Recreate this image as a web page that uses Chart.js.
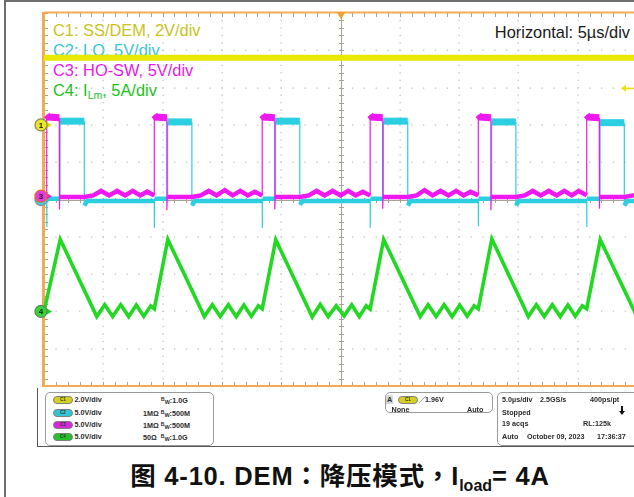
<!DOCTYPE html>
<html>
<head>
<meta charset="utf-8">
<script src="https://cdn.jsdelivr.net/npm/chart.js@4"></script>
<style>
  body { margin: 0; width: 634px; height: 497px; overflow: hidden; background: #fff; position: relative;
         font-family: "Liberation Sans", Arial, "Noto Sans CJK SC", sans-serif; }
  .frame { position: absolute; left: 4px; top: 0; width: 700px; height: 600px;
           border-left: 2px solid #6e6e6e; border-top: 2px solid #6e6e6e; }
  .lbl { position: absolute; left: 53px; font-size: 16.4px; line-height: 16px; white-space: nowrap; }
  .lbl sub { font-size: 10.5px; vertical-align: -3px; line-height: 0; }
  #scope { position: absolute; left: 30px; top: 0; }
  .box { position: absolute; border: 1px solid #9a9a9a; border-radius: 5px; background: #fff; }
  .t { position: absolute; font-size: 7.2px; font-weight: bold; color: #2a2a2a; line-height: 9px; white-space: nowrap; }
  .badge { position: absolute; width: 18px; height: 6px; border: 1px solid #808080; border-radius: 4px;
           font-size: 4.5px; line-height: 6px; text-align: center; color: #333; font-weight: bold; }
  .bw { font-size: 5px; vertical-align: 2px; }
  .bw2 { font-size: 5.5px; vertical-align: -1px; }
  .stop { position: absolute; left: 621px; top: 406px; width: 2px; height: 6px; background: #111; }
  .stop::after { content: ""; position: absolute; left: -2px; top: 5px; border-left: 3px solid transparent;
                 border-right: 3px solid transparent; border-top: 4px solid #111; }
  .caption { position: absolute; left: 0; width: 680px; top: 459px; text-align: center; letter-spacing: 0.8px;
             font-size: 25.5px; font-weight: bold; color: #111; line-height: 30px; white-space: nowrap; }
  .caption .p { font-family: "Noto Sans CJK TC", sans-serif; }
  .caption sub { font-size: 16px; vertical-align: -6px; line-height: 0; letter-spacing: 0; }
</style>
</head>
<body>
<div class="frame"></div>

<div class="lbl" style="top:22.4px;color:#c8c31a">C1: SS/DEM, 2V/div</div>
<div class="lbl" style="top:41.9px;color:#33c6d6">C2: LO, 5V/div</div>
<div class="lbl" style="top:61.9px;color:#e619e6">C3: HO-SW, 5V/div</div>
<div class="lbl" style="top:81.9px;color:#19c219">C4: I<sub>Lm</sub>, 5A/div</div>
<div class="lbl" style="top:23.7px;left:auto;right:4px;color:#1a1a1a">Horizontal: 5µs/div</div>

<canvas id="scope" width="607" height="390"></canvas>

<!-- status bar -->
<div style="position:absolute;left:37px;top:388px;width:620px;height:58px;border-left:1.5px solid #555;border-bottom:1.5px solid #555;"></div>
<div class="box" style="left:45px;top:391.5px;width:167px;height:52px"></div>
<div class="box" style="left:385px;top:391.5px;width:106px;height:19px"></div>
<div class="box" style="left:497px;top:391.5px;width:150px;height:52px"></div>

<div class="badge" style="left:53px;top:395.5px;background:#d8d020">C1</div>
<div class="badge" style="left:53px;top:408.5px;background:#33c6d6">C2</div>
<div class="badge" style="left:53px;top:420.5px;background:#d628d6">C3</div>
<div class="badge" style="left:53px;top:432.5px;background:#28c028">C4</div>
<div class="t" style="left:74.5px;top:394.5px">2.0V/div</div>
<div class="t" style="left:74.5px;top:407.5px">5.0V/div</div>
<div class="t" style="left:74.5px;top:419.5px">5.0V/div</div>
<div class="t" style="left:74.5px;top:431.5px">5.0V/div</div>
<div class="t" style="left:161px;top:394.5px"><span class="bw">B</span><span class="bw2">W</span>:1.0G</div>
<div class="t" style="left:143px;top:407.5px">1MΩ <span class="bw">B</span><span class="bw2">W</span>:500M</div>
<div class="t" style="left:143px;top:419.5px">1MΩ <span class="bw">B</span><span class="bw2">W</span>:500M</div>
<div class="t" style="left:143px;top:431.5px">50Ω&nbsp; <span class="bw">B</span><span class="bw2">W</span>:1.0G</div>

<div class="t" style="left:386px;top:394.5px;background:#d8d8d8;padding:0 1px">A</div>
<div class="badge" style="left:398px;top:395.5px;background:#d8d020">C1</div>
<div class="t" style="left:419px;top:394.5px;font-weight:normal">╱</div>
<div class="t" style="left:425px;top:394.5px" id="trigText"></div>
<div class="t" style="left:391.5px;top:404.5px">None</div>
<div class="t" style="left:467px;top:404.5px">Auto</div>

<div class="t" style="left:502px;top:394.5px">5.0µs/div</div>
<div class="t" style="left:540px;top:394.5px">2.5GS/s</div>
<div class="t" style="left:590px;top:394.5px">400ps/pt</div>
<div class="t" style="left:502px;top:407.5px">Stopped</div>
<div class="stop"></div>
<div class="t" style="left:502px;top:419px">19 acqs</div>
<div class="t" style="left:583px;top:419px">RL:125k</div>
<div class="t" style="left:502px;top:432px">Auto</div>
<div class="t" style="left:527px;top:432px">October 09, 2023</div>
<div class="t" style="left:597px;top:432px">17:36:37</div>

<div class="caption">图 4-10. DEM<span class="p">：</span>降压模式<span class="p">，</span>I<sub>load</sub>= 4A</div>

<script>
// time axis in µs (5 µs/div, 10 div)
const timeMin = -25;
const timeMax = 25;
const trigLevel = 1.96;

// C1 SS/DEM (V)
const c1Time = [-25.00, 25.00];
const c1Volts = [3.6, 3.6];

// C2 LO (V)
const c2Time = [
  -25.00,
  -24.77, -24.77, -24.75, -23.65, -23.65, -21.60, -21.60, -21.35,
  -15.70, -15.70, -15.68, -14.58, -14.58, -12.53, -12.53, -12.28,
  -6.60, -6.60, -6.58, -5.48, -5.48, -3.43, -3.43, -3.18,
  2.50, 2.50, 2.52, 3.62, 3.62, 5.67, 5.67, 5.92,
  11.62, 11.62, 11.64, 12.74, 12.74, 14.79, 14.79, 15.04,
  20.76, 20.76, 20.78, 21.88, 21.88, 23.93, 23.93, 24.18,
  25.00
];
const c2Volts = [
  -0.2,
  -0.2, -3.7, 0.1, 0.1, 10.5, 10.5, -0.8, -0.2,
  -0.2, -3.8, 0.1, 0.1, 10.4, 10.4, -0.8, -0.2,
  -0.2, -3.8, 0.1, 0.1, 10.5, 10.5, -0.7, -0.2,
  -0.2, -3.8, 0.1, 0.1, 10.5, 10.5, -0.8, -0.2,
  -0.2, -3.6, 0.1, 0.1, 10.4, 10.4, -0.8, -0.2,
  -0.2, -3.7, 0.1, 0.1, 10.3, 10.3, -0.8, -0.2,
  -0.2
];

// C3 HO-SW (V)
const c3Time = [
  -25.00,
  -24.77, -24.77, -24.62, -23.71, -23.71, -23.68, -21.60, -20.85, -20.18, -19.51, -18.83, -18.16, -17.52, -16.89, -16.30,
  -15.70, -15.70, -15.55, -14.64, -14.64, -14.61, -12.53, -11.78, -11.11, -10.44, -9.76, -9.09, -8.45, -7.82, -7.23,
  -6.60, -6.60, -6.45, -5.54, -5.54, -5.51, -3.43, -2.68, -2.01, -1.34, -0.66, 0.01, 0.65, 1.28, 1.87,
  2.50, 2.50, 2.65, 3.56, 3.56, 3.59, 5.67, 6.42, 7.09, 7.76, 8.44, 9.11, 9.75, 10.38, 10.97,
  11.62, 11.62, 11.77, 12.68, 12.68, 12.71, 14.79, 15.54, 16.21, 16.88, 17.56, 18.23, 18.87, 19.50, 20.09,
  20.76, 20.76, 20.91, 21.82, 21.82, 21.85, 23.93, 24.68, 25.00
];
const c3Volts = [
  0.1,
  0.1, 10.9, 10.6, 10.5, -1.8, -0.1, -0.1, 0.1, 0.7, 0.1, 0.7, 0.1, 0.7, 0.1, 0.6,
  0.1, 10.9, 10.6, 10.5, -1.9, -0.1, -0.1, 0.1, 0.7, 0.1, 0.8, 0.1, 0.7, 0.1, 0.6,
  0.1, 10.9, 10.6, 10.5, -1.8, -0.1, -0.1, 0.1, 0.7, 0.1, 0.7, 0.1, 0.7, 0.1, 0.6,
  0.1, 10.9, 10.6, 10.5, -1.7, -0.1, -0.1, 0.1, 0.8, 0.1, 0.7, 0.1, 0.7, 0.1, 0.6,
  0.1, 10.9, 10.6, 10.5, -1.9, -0.1, -0.1, 0.1, 0.7, 0.1, 0.7, 0.1, 0.7, 0.1, 0.7,
  0.1, 10.9, 10.6, 10.5, -1.7, -0.1, -0.1, 0.1, 0.2
];

// C4 inductor current ILm (A)
const c4Time = [
  -25.00,
  -23.63, -20.55, -19.88, -19.21, -18.53, -17.86, -17.22, -16.59, -16.00, -15.70,
  -14.56, -11.48, -10.81, -10.14, -9.46, -8.79, -8.15, -7.52, -6.93, -6.60,
  -5.46, -2.38, -1.71, -1.04, -0.36, 0.31, 0.95, 1.58, 2.17, 2.50,
  3.64, 6.72, 7.39, 8.06, 8.74, 9.41, 10.05, 10.68, 11.27, 11.62,
  12.76, 15.84, 16.51, 17.18, 17.86, 18.53, 19.17, 19.80, 20.39, 20.76,
  21.90, 25.00
];
const c4Amps = [
  0.0,
  9.65, -0.7, 0.9, -0.7, 0.9, -0.7, 0.85, -0.65, 0.75, 0.35,
  9.65, -0.7, 0.9, -0.7, 0.9, -0.7, 0.85, -0.65, 0.75, 0.35,
  9.6, -0.75, 0.95, -0.7, 0.75, -0.6, 0.9, -0.7, 0.75, 0.3,
  9.65, -0.7, 0.9, -0.7, 0.9, -0.7, 0.85, -0.65, 0.75, 0.35,
  9.7, -0.7, 0.9, -0.7, 0.9, -0.7, 0.85, -0.65, 0.75, 0.35,
  9.6, -0.7
];

document.getElementById('trigText').textContent = trigLevel.toFixed(2) + 'V';

const toPoints = (xs, ys) => xs.map((x, i) => ({ x, y: ys[i] }));

// thin vertical edges, fat noisy tops and baselines
function traceWidth(top, base) {
  return ctx => {
    const dx = Math.abs(ctx.p1.parsed.x - ctx.p0.parsed.x);
    if (dx < 0.05) return 1.2;
    return (ctx.p0.parsed.y > 5 && ctx.p1.parsed.y > 5) ? top : base;
  };
}

const graticule = {
  id: 'graticule',
  beforeDatasetsDraw(chart) {
    const { ctx, chartArea: a, scales } = chart;
    const xs = scales.x, ys = scales.div;
    ctx.save();
    // dotted major lines
    ctx.fillStyle = '#c4c4c4';
    for (let i = -4; i <= 4; i++) {
      if (i === 0) continue;
      const px = Math.round(xs.getPixelForValue(i * 5));
      for (let j = -25; j <= 25; j++) {
        ctx.fillRect(px - 0.5, ys.getPixelForValue(j * 0.2) - 0.5, 1.3, 1.3);
      }
    }
    for (let j = -4; j <= 4; j++) {
      if (j === 0) continue;
      const py = Math.round(ys.getPixelForValue(j));
      for (let i = -25; i <= 25; i++) {
        ctx.fillRect(xs.getPixelForValue(i) - 0.5, py - 0.5, 1.3, 1.3);
      }
    }
    // centre cross with ticks, edge ticks
    const cx = Math.round(xs.getPixelForValue(0)) + 0.5;
    const cy = Math.round(ys.getPixelForValue(0)) + 0.5;
    ctx.strokeStyle = '#a9a195';
    ctx.lineWidth = 1;
    ctx.beginPath();
    ctx.moveTo(cx, a.top); ctx.lineTo(cx, a.bottom);
    ctx.moveTo(a.left, cy); ctx.lineTo(a.right, cy);
    for (let j = -25; j <= 25; j++) {
      const py = Math.round(ys.getPixelForValue(j * 0.2)) + 0.5;
      ctx.moveTo(cx - 2.5, py); ctx.lineTo(cx + 2.5, py);
      ctx.moveTo(a.left, py); ctx.lineTo(a.left + 4, py);
    }
    for (let i = -25; i <= 25; i++) {
      const px = Math.round(xs.getPixelForValue(i)) + 0.5;
      ctx.moveTo(px, cy - 2.5); ctx.lineTo(px, cy + 2.5);
      ctx.moveTo(px, a.top); ctx.lineTo(px, a.top + 4);
      ctx.moveTo(px, a.bottom - 4); ctx.lineTo(px, a.bottom);
    }
    ctx.stroke();
    // orange screen frame
    ctx.strokeStyle = '#f2aa55';
    ctx.lineWidth = 3;
    ctx.beginPath();
    ctx.moveTo(a.left - 0.5, a.top - 1); ctx.lineTo(a.left - 0.5, a.bottom + 1);
    ctx.stroke();
    ctx.lineWidth = 2;
    ctx.beginPath();
    ctx.moveTo(a.left, a.top - 0.5); ctx.lineTo(a.right, a.top - 0.5);
    ctx.moveTo(a.left, a.bottom); ctx.lineTo(a.right, a.bottom);
    ctx.stroke();
    ctx.restore();
  }
};

const markers = {
  id: 'markers',
  afterDatasetsDraw(chart) {
    const { ctx, chartArea: a, scales } = chart;
    const mx = a.left - 3;
    ctx.save();
    const badge = (y, fill, ring, txt, arrow) => {
      ctx.fillStyle = arrow;
      ctx.beginPath();
      ctx.moveTo(a.left + 3, y - 3); ctx.lineTo(a.left + 8, y); ctx.lineTo(a.left + 3, y + 3);
      ctx.fill();
      ctx.fillRect(a.left, y - 0.5, 4, 1.5);
      ctx.beginPath();
      ctx.arc(mx, y, 6, 0, Math.PI * 2);
      ctx.fillStyle = fill;
      ctx.fill();
      ctx.lineWidth = 1.3;
      ctx.strokeStyle = ring;
      ctx.stroke();
      ctx.fillStyle = '#222';
      ctx.font = 'bold 8px "Liberation Sans", Arial';
      ctx.textAlign = 'center';
      ctx.textBaseline = 'middle';
      ctx.fillText(txt, mx, y + 0.5);
    };
    badge(scales.c2.getPixelForValue(0), '#3cd2e0', '#7a9aa0', '2', '#30c8d8');
    badge(scales.c3.getPixelForValue(0), '#e43ce4', '#f0641e', '3', '#e020e0');
    badge(scales.c1.getPixelForValue(0), '#ece826', '#8a8a60', '1', '#e0dc10');
    badge(scales.c4.getPixelForValue(0), '#3ad23a', '#5a8a5a', '4', '#20d020');
    // trigger position
    const tx = scales.x.getPixelForValue(0) + 0.5;
    ctx.fillStyle = '#f0a030';
    ctx.beginPath();
    ctx.moveTo(tx - 4.5, a.top - 1); ctx.lineTo(tx + 4.5, a.top - 1); ctx.lineTo(tx, a.top + 6);
    ctx.fill();
    // trigger level on C1
    const ty = scales.c1.getPixelForValue(trigLevel);
    ctx.fillStyle = '#e6e010';
    ctx.beginPath();
    ctx.moveTo(a.right - 16, ty); ctx.lineTo(a.right - 11, ty - 3.5); ctx.lineTo(a.right - 11, ty + 3.5);
    ctx.fill();
    ctx.fillRect(a.right - 12, ty - 0.7, 9, 1.6);
    ctx.restore();
  }
};

const line = { showLine: true, pointRadius: 0, tension: 0, fill: false };

new Chart(document.getElementById('scope'), {
  type: 'scatter',
  data: {
    datasets: [
      { ...line, label: 'C1', data: toPoints(c1Time, c1Volts), yAxisID: 'c1', borderColor: '#e8e800', borderWidth: 6 },
      { ...line, label: 'C3', data: toPoints(c3Time, c3Volts), yAxisID: 'c3', borderColor: '#f018f0', borderWidth: 4.5,
        segment: { borderWidth: traceWidth(7, 4.5) } },
      { ...line, label: 'C2', data: toPoints(c2Time, c2Volts), yAxisID: 'c2', borderColor: '#2ccfe0', borderWidth: 4.5,
        segment: { borderWidth: traceWidth(7, 4.5) } },
      { ...line, label: 'C4', data: toPoints(c4Time, c4Amps), yAxisID: 'c4', borderColor: '#22d822', borderWidth: 3.6 }
    ]
  },
  options: {
    responsive: false,
    animation: false,
    devicePixelRatio: 1,
    events: [],
    layout: { padding: { left: 14, top: 13, right: 0, bottom: 4 } },
    plugins: { legend: { display: false }, tooltip: { enabled: false } },
    scales: {
      x: { type: 'linear', min: timeMin, max: timeMax, display: false },
      div: { type: 'linear', position: 'left', min: -5, max: 5, display: false },
      c1: { type: 'linear', position: 'left', min: -14, max: 6, display: false },
      c2: { type: 'linear', position: 'left', min: -25, max: 25, display: false },
      c3: { type: 'linear', position: 'left', min: -25.45, max: 24.55, display: false },
      c4: { type: 'linear', position: 'left', min: -10, max: 40, display: false }
    }
  },
  plugins: [graticule, markers]
});
</script>
</body>
</html>
